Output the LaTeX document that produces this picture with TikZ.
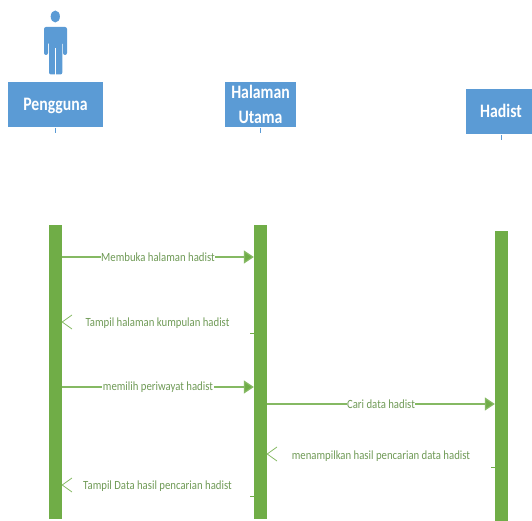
\documentclass[tikz,border=0pt]{standalone}
\usepackage{fontspec}
\setmainfont{Carlito}
\newfontfamily\hdrfont[FakeStretch=0.83]{Carlito}
\newfontfamily\lblfont[FakeStretch=0.86]{Carlito}
\usetikzlibrary{arrows.meta}
\definecolor{boxblue}{HTML}{5B9BD5}
\definecolor{bargreen}{HTML}{70AD47}
\definecolor{txtgreen}{HTML}{6F9A56}
\tikzset{
  x=1pt,y=-1pt,
  hdr/.style={fill=boxblue,draw=none,inner sep=0pt,align=center,text=white,font=\hdrfont\fontsize{19}{25}\selectfont\bfseries},
  tick/.style={draw=boxblue,line width=0.8pt},
  bar/.style={fill=bargreen,draw=none,inner sep=0pt,minimum width=13pt},
  msg/.style={draw=bargreen!85!white,line width=1.2pt,-{Triangle[length=10pt,width=13pt,fill=bargreen]}},
  msglabel/.style={fill=white,inner sep=0.5pt,text=txtgreen,font=\lblfont\fontsize{12.5}{14}\selectfont},
  retlabel/.style={inner sep=0pt,text=txtgreen,font=\lblfont\fontsize{12.5}{14}\selectfont},
  openhead/.style={draw=bargreen!85!white,line width=0.8pt},
  stub/.style={draw=bargreen,line width=0.8pt},
}
\begin{document}
\begin{tikzpicture}
\useasboundingbox (0,0) rectangle (532,521);
% actor
\fill[boxblue] (55.3,16.5) ellipse [x radius=4.6,y radius=6];
\fill[boxblue,rounded corners=2pt] (44,55) -- (44,27) -- (67,27) -- (67,55) -- (63,55) -- (63,42) -- (62.3,42) -- (62.3,74.5) -- (49,74.5) -- (49,42) -- (48,42) -- (48,55) -- cycle;
\draw[white,line width=0.7pt] (55.6,48) -- (55.6,75);
% headers
\node[hdr,minimum width=95pt,minimum height=44.5pt] (pengguna) at (55.5,104.3) {\raisebox{-6pt}[0pt][0pt]{Pengguna}};
\node[hdr,minimum width=71pt,minimum height=45pt] (halaman) at (260.5,104.5) {\raisebox{-1pt}{Halaman}\\\raisebox{-1pt}{Utama}};
\node[hdr,minimum width=70pt,minimum height=44.5pt] (hadist) at (501,111.3) {\raisebox{-6pt}[0pt][0pt]{Hadist}};
\coordinate (t1) at (55.5,133);
\coordinate (t2) at (260.5,133);
\coordinate (t3) at (501,140);
\draw[tick] (55.5,128) -- (t1);
\draw[tick] (260.5,128) -- (t2);
\draw[tick] (501,135) -- (t3);
% bars
\node[bar,minimum height=294pt] (b1) at (55.5,372) {};
\node[bar,minimum height=294pt] (b2) at (260.5,372) {};
\node[bar,minimum height=290pt] (b3) at (501.5,376) {};
% coordinates on bars
\coordinate (a1) at (b1.east |- 0,257);
\coordinate (a2) at (b2.west |- 0,257);
\coordinate (c1) at (b1.east |- 0,387);
\coordinate (c2) at (b2.west |- 0,387);
\coordinate (d1) at (b2.east |- 0,404);
\coordinate (d2) at (b3.west |- 0,404);
% forward messages
\draw[msg] (a1) -- node[msglabel,pos=0.5] {Membuka halaman hadist} (a2);
\draw[msg] (c1) -- node[msglabel,pos=0.5] {memilih periwayat hadist} (c2);
\draw[msg] (d1) -- node[msglabel,pos=0.5] {Cari data hadist} (d2);
% return labels
\node[retlabel] (r1) at (157.5,323.5) {Tampil halaman kumpulan hadist};
\node[retlabel] (r2) at (381,456.5) {menampilkan hasil pencarian data hadist};
\node[retlabel] (r3) at (157.5,486.5) {Tampil Data hasil pencarian hadist};
% open heads
\draw[openhead] (72,315) -- (b1.east |- 0,322) -- (72,329);
\draw[openhead] (277,447) -- (b2.east |- 0,454) -- (277,461);
\draw[openhead] (72,478) -- (b1.east |- 0,485) -- (72,492);
% stubs
\draw[stub] (250,333.5) -- (b2.west |- 0,333.5);
\draw[stub] (250,496.5) -- (b2.west |- 0,496.5);
\draw[stub] (491,467.5) -- (b3.west |- 0,467.5);
\end{tikzpicture}
\end{document}
